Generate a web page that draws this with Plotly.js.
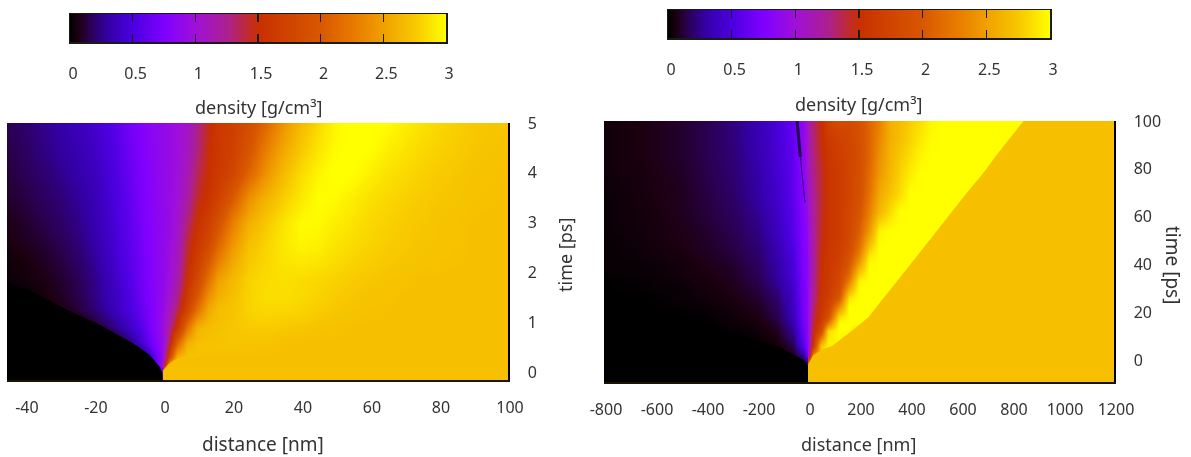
<!DOCTYPE html>
<html>
<head>
<meta charset="utf-8">
<script src="https://cdn.plot.ly/plotly-3.0.1.min.js"></script>
<style>html,body{margin:0;padding:0;background:#fff}#g{width:1191px;height:457px;filter:blur(0.45px)}</style>
</head>
<body>
<div id="g"></div>
<script>
// density colour palette (g/cm3 fraction of 3)
const paletteStops = [0,0.02,0.05,0.1,0.167,0.25,0.333,0.4167,0.5,0.667,0.75,0.833,0.917,1];
const paletteColors = ['#000000','#1c0010','#2a0050','#3400a8','#4c00e0','#8000ff','#a010d8','#ac2090','#c83000','#d85800','#e87800','#f0a000','#f8c800','#ffff00'];
const goldColor = '#f6c000';
const blackColor = '#000000';

const cbLevels = [0,0.1,0.2,0.3,0.4,0.5,0.6,0.7,0.8,0.9,1,1.1,1.2,1.3,1.4,1.5,1.6,1.7,1.8,1.9,2,2.1,2.2,2.3,2.4,2.5,2.6,2.7,2.8,2.9,3];
const cbTicks = [0,0.5,1,1.5,2,2.5,3];
const cbTickText = ['0','0.5','1','1.5','2','2.5','3'];

const xTicksLeft = [-40,-20,0,20,40,60,80,100];
const xTextLeft = ['-40','-20','0','20','40','60','80','100'];
const tTicksLeft = [0,1,2,3,4,5];
const xTicksRight = [-800,-600,-400,-200,0,200,400,600,800,1000,1200];
const xTextRight = ['-800','-600','-400','-200','0','200','400','600','800','1000','1200'];
const tTicksRight = [0,20,40,60,80,100];

// left panel: distance [nm], time [ps], density [g/cm3]
const xLeft = [-46,-40,-35,-30,-25,-20,-15,-10,-7,-4,-2,-0.3,0.3,2,4,7,10,13,16,20,25,30,35,40,45,50,55,60,65,70,75,80,90,101];
const tLeft = [-0.2,0.03,0.15,0.3,0.58,0.9,1.25,1.5,1.85,2.2,2.6,3,3.5,4,4.5,5.05];
const zLeft = [
[0,0,0,0,0,0,0,0,0,0,0,0,2.7,2.7,2.7,2.7,2.7,2.7,2.7,2.7,2.7,2.7,2.7,2.7,2.7,2.7,2.7,2.7,2.7,2.7,2.7,2.7,2.7,2.7],
[0,0,0,0,0,0,0,0,0,0,0,0.6,2.6,2.7,2.7,2.7,2.7,2.7,2.7,2.7,2.7,2.7,2.7,2.7,2.7,2.7,2.7,2.7,2.7,2.7,2.7,2.7,2.7,2.7],
[0,0,0,0,0,0,0,0,0,0,0.6,1.0,1.3,2.65,2.7,2.7,2.7,2.7,2.7,2.7,2.7,2.7,2.7,2.7,2.7,2.7,2.7,2.7,2.7,2.7,2.7,2.7,2.7,2.7],
[0,0,0,0,0,0,0,0,0,0.4,0.65,0.9,1.1,1.9,2.6,2.72,2.72,2.7,2.7,2.7,2.7,2.7,2.7,2.7,2.7,2.7,2.7,2.7,2.7,2.7,2.7,2.7,2.7,2.7],
[0,0,0,0,0,0,0,0.18,0.38,0.62,0.78,0.9,1.0,1.45,2.1,2.6,2.7,2.72,2.73,2.74,2.72,2.72,2.7,2.7,2.7,2.7,2.7,2.7,2.7,2.7,2.7,2.7,2.7,2.7],
[0,0,0,0,0,0.08,0.2,0.38,0.52,0.7,0.82,0.92,1.0,1.25,1.55,2.2,2.6,2.68,2.7,2.74,2.76,2.77,2.75,2.74,2.72,2.71,2.7,2.7,2.7,2.7,2.7,2.7,2.7,2.7],
[0,0,0,0.05,0.11,0.2,0.33,0.48,0.6,0.72,0.82,0.9,0.95,1.12,1.35,1.75,2.2,2.55,2.68,2.72,2.8,2.82,2.82,2.8,2.77,2.74,2.72,2.71,2.7,2.7,2.7,2.7,2.7,2.7],
[0,0,0.04,0.08,0.14,0.23,0.35,0.5,0.62,0.75,0.82,0.88,0.92,1.05,1.25,1.62,2.0,2.4,2.6,2.7,2.8,2.85,2.85,2.83,2.8,2.76,2.74,2.72,2.71,2.7,2.7,2.7,2.7,2.7],
[0.02,0.04,0.06,0.1,0.15,0.24,0.37,0.53,0.65,0.76,0.83,0.87,0.9,1.0,1.15,1.52,1.8,2.2,2.5,2.65,2.8,2.84,2.86,2.84,2.82,2.79,2.76,2.74,2.72,2.71,2.7,2.7,2.7,2.7],
[0.03,0.05,0.08,0.12,0.18,0.27,0.4,0.55,0.66,0.76,0.83,0.87,0.9,0.98,1.1,1.45,1.68,2.0,2.3,2.55,2.75,2.82,2.88,2.9,2.88,2.84,2.8,2.77,2.75,2.73,2.72,2.71,2.7,2.7],
[0.05,0.08,0.11,0.15,0.21,0.3,0.42,0.57,0.67,0.77,0.83,0.87,0.89,0.96,1.06,1.4,1.58,1.8,2.1,2.42,2.7,2.8,2.9,2.96,2.94,2.88,2.84,2.8,2.77,2.75,2.73,2.72,2.7,2.7],
[0.06,0.1,0.14,0.18,0.24,0.32,0.44,0.58,0.69,0.78,0.83,0.86,0.88,0.94,1.03,1.3,1.52,1.68,1.92,2.28,2.6,2.75,2.88,2.98,2.98,2.92,2.87,2.82,2.79,2.76,2.74,2.72,2.7,2.7],
[0.09,0.13,0.17,0.21,0.27,0.34,0.46,0.6,0.7,0.79,0.84,0.87,0.89,0.93,1.0,1.18,1.42,1.55,1.7,2.0,2.4,2.62,2.78,2.9,3.0,2.98,2.92,2.86,2.82,2.79,2.76,2.74,2.71,2.7],
[0.11,0.16,0.2,0.25,0.3,0.37,0.48,0.62,0.72,0.8,0.85,0.87,0.89,0.93,0.98,1.12,1.35,1.5,1.62,1.75,2.1,2.42,2.68,2.84,2.95,3.02,3.0,2.93,2.87,2.83,2.79,2.76,2.72,2.7],
[0.13,0.18,0.23,0.28,0.33,0.4,0.5,0.65,0.74,0.81,0.85,0.88,0.89,0.93,0.97,1.08,1.28,1.48,1.6,1.7,1.95,2.28,2.55,2.75,2.88,2.98,3.02,3.0,2.93,2.88,2.83,2.79,2.74,2.71],
[0.15,0.2,0.25,0.3,0.36,0.43,0.53,0.68,0.75,0.82,0.86,0.88,0.9,0.93,0.97,1.05,1.25,1.45,1.58,1.68,1.85,2.12,2.42,2.66,2.82,2.96,3.02,3.03,3.0,2.93,2.87,2.82,2.75,2.72]
];
// sharp fronts of the left panel
const blackLeftX = [-46,-45,-37.7,-27.8,-18.3,-8.7,-3.8,-0.9,-0.2,-0.2,-46];
const blackLeftT = [1.82,1.8,1.6,1.25,0.95,0.58,0.34,0.1,-0.02,-0.2,-0.2];
const goldLeftX = [0,0,1.5,3.5,6,101,101];
const goldLeftT = [-0.2,0.03,0.15,0.25,0.3,0.3,-0.2];

// right panel: distance [nm], time [ps], density [g/cm3]
const xRight = [-820,-650,-500,-400,-300,-200,-120,-60,-20,-1,1,20,50,80,120,160,200,240,280,320,360,400,440,480,520,560,600,640,680,720,760,800,840,870,900,1220];
const tRight = [-10,-3,2,6,12,15,18,22,26,29.5,33,36.5,40,43.5,47,54,62,70,78,86,93,100.5];
const zRight = [
[0,0,0,0,0,0,0,0,0,0,2.7,2.7,2.7,2.7,2.7,2.7,2.7,2.7,2.7,2.7,2.7,2.7,2.7,2.7,2.7,2.7,2.7,2.7,2.7,2.7,2.7,2.7,2.7,2.7,2.7,2.7],
[0,0,0,0,0,0,0,0,0,0,2.7,2.7,2.7,2.7,2.7,2.7,2.7,2.7,2.7,2.7,2.7,2.7,2.7,2.7,2.7,2.7,2.7,2.7,2.7,2.7,2.7,2.7,2.7,2.7,2.7,2.7],
[0,0,0,0,0,0,0,0.08,0.25,0.75,1.0,2.3,2.72,2.72,2.7,2.7,2.7,2.7,2.7,2.7,2.7,2.7,2.7,2.7,2.7,2.7,2.7,2.7,2.7,2.7,2.7,2.7,2.7,2.7,2.7,2.7],
[0,0,0,0,0,0,0.03,0.14,0.55,0.85,0.92,1.6,2.75,2.95,2.95,2.7,2.7,2.7,2.7,2.7,2.7,2.7,2.7,2.7,2.7,2.7,2.7,2.7,2.7,2.7,2.7,2.7,2.7,2.7,2.7,2.7],
[0,0,0,0,0.01,0.03,0.08,0.27,0.65,0.85,0.95,1.45,1.85,2.85,3,3,2.7,2.7,2.7,2.7,2.7,2.7,2.7,2.7,2.7,2.7,2.7,2.7,2.7,2.7,2.7,2.7,2.7,2.7,2.7,2.7],
[0,0,0,0,0.02,0.04,0.11,0.31,0.67,0.85,0.95,1.4,1.72,2.3,3,3,3,3,2.7,2.7,2.7,2.7,2.7,2.7,2.7,2.7,2.7,2.7,2.7,2.7,2.7,2.7,2.7,2.7,2.7,2.7],
[0,0,0,0.01,0.03,0.06,0.15,0.36,0.7,0.85,0.95,1.35,1.6,1.9,2.85,3,3,3,3,2.7,2.7,2.7,2.7,2.7,2.7,2.7,2.7,2.7,2.7,2.7,2.7,2.7,2.7,2.7,2.7,2.7],
[0,0,0.01,0.02,0.04,0.08,0.17,0.38,0.71,0.85,0.93,1.3,1.58,1.75,2.4,3,3,3,3,3,2.7,2.7,2.7,2.7,2.7,2.7,2.7,2.7,2.7,2.7,2.7,2.7,2.7,2.7,2.7,2.7],
[0,0,0.02,0.03,0.06,0.1,0.2,0.4,0.72,0.85,0.92,1.25,1.55,1.65,2.0,2.9,3,3,3,3,3,2.7,2.7,2.7,2.7,2.7,2.7,2.7,2.7,2.7,2.7,2.7,2.7,2.7,2.7,2.7],
[0,0.01,0.02,0.04,0.07,0.12,0.23,0.42,0.72,0.85,0.92,1.24,1.53,1.63,1.88,2.6,3,3,3,3,3,3,2.7,2.7,2.7,2.7,2.7,2.7,2.7,2.7,2.7,2.7,2.7,2.7,2.7,2.7],
[0,0.01,0.03,0.05,0.08,0.14,0.27,0.45,0.72,0.85,0.92,1.22,1.52,1.62,1.8,2.3,2.95,3,3,3,3,3,3,2.7,2.7,2.7,2.7,2.7,2.7,2.7,2.7,2.7,2.7,2.7,2.7,2.7],
[0.01,0.02,0.04,0.06,0.09,0.16,0.29,0.47,0.74,0.85,0.92,1.21,1.51,1.61,1.76,2.12,2.75,3,3,3,3,3,3,2.7,2.7,2.7,2.7,2.7,2.7,2.7,2.7,2.7,2.7,2.7,2.7,2.7],
[0.01,0.02,0.04,0.07,0.1,0.17,0.3,0.48,0.75,0.85,0.92,1.2,1.5,1.6,1.72,2.0,2.5,2.98,3,3,3,3,3,3,2.7,2.7,2.7,2.7,2.7,2.7,2.7,2.7,2.7,2.7,2.7,2.7],
[0.01,0.03,0.05,0.08,0.12,0.19,0.32,0.5,0.76,0.85,0.93,1.2,1.49,1.58,1.7,1.92,2.33,2.9,3,3,3,3,3,3,3,2.7,2.7,2.7,2.7,2.7,2.7,2.7,2.7,2.7,2.7,2.7],
[0.01,0.03,0.06,0.09,0.13,0.2,0.33,0.52,0.76,0.85,0.93,1.2,1.47,1.57,1.68,1.85,2.2,2.75,3,3,3,3,3,3,3,3,2.7,2.7,2.7,2.7,2.7,2.7,2.7,2.7,2.7,2.7],
[0.02,0.04,0.07,0.1,0.15,0.23,0.37,0.55,0.78,0.87,0.95,1.2,1.45,1.55,1.65,1.8,2.05,2.45,2.95,3,3,3,3,3,3,3,3,2.7,2.7,2.7,2.7,2.7,2.7,2.7,2.7,2.7],
[0.02,0.04,0.08,0.12,0.17,0.26,0.4,0.57,0.8,0.9,1.0,1.22,1.42,1.55,1.65,1.78,1.95,2.3,2.65,2.85,3,3,3,3,3,3,3,3,3,2.7,2.7,2.7,2.7,2.7,2.7,2.7],
[0.02,0.05,0.08,0.13,0.19,0.29,0.42,0.59,0.82,1.0,1.05,1.22,1.42,1.55,1.65,1.75,1.9,2.2,2.55,2.72,2.85,3,3,3,3,3,3,3,3,3,2.7,2.7,2.7,2.7,2.7,2.7],
[0.03,0.05,0.09,0.14,0.2,0.3,0.44,0.6,0.84,1.02,1.08,1.25,1.42,1.55,1.65,1.75,1.88,2.15,2.45,2.65,2.8,2.92,3,3,3,3,3,3,3,3,3,2.7,2.7,2.7,2.7,2.7],
[0.03,0.06,0.1,0.15,0.21,0.32,0.45,0.61,0.85,1.05,1.1,1.28,1.45,1.58,1.68,1.75,1.88,2.1,2.4,2.62,2.75,2.85,2.95,3,3,3,3,3,3,3,3,3,2.7,2.7,2.7,2.7],
[0.03,0.06,0.1,0.15,0.22,0.33,0.46,0.62,0.86,1.05,1.12,1.3,1.48,1.62,1.72,1.78,1.9,2.1,2.35,2.6,2.7,2.8,2.9,2.98,3,3,3,3,3,3,3,3,3,2.7,2.7,2.7],
[0.03,0.06,0.1,0.15,0.22,0.33,0.47,0.62,0.87,1.05,1.15,1.3,1.5,1.7,1.85,1.82,1.9,2.1,2.3,2.6,2.68,2.78,2.85,2.95,3,3,3,3,3,3,3,3,3,3,2.7,2.7]
];
// sharp fronts of the right panel
const blackRightX = [-820,-560,-400,-250,-122,-60,-31,-8,-1,-0.5,-820];
const blackRightT = [22,19,15,10,6,2.5,0.8,-0.5,-3,-10,-10];
const goldRightX = [0,0,20,50,95,170,238,297,349,401,453,505,564,623,686,741,793,849,1220,1220];
const goldRightT = [-10,-2,2,4,6,12,18,26,33,40,47,54,62,70,78,86,93,100.5,100.5,-10];
// thin dark streak near the top of the right panel
const streakTopX = [-43,-30];
const streakTopT = [100,85];
const streakLowX = [-30,-12];
const streakLowT = [85,66];

const W = 1191, H = 457;
const font = {family:'"Noto Sans", sans-serif', size:16, color:'#333333'};
const colorscale = paletteStops.map((s,i)=>[s,paletteColors[i]]);
const px = (a,b)=>[a/W,b/W];
const py = (top,bot)=>[1-bot/H,1-top/H];

function heat(x,y,z,xa,ya){
  return {type:'heatmap',x,y,z,xaxis:xa,yaxis:ya,zmin:0,zmax:3,zsmooth:'best',colorscale,showscale:false,hoverinfo:'skip'};
}
function patch(x,y,color,xa,ya){
  return {type:'scatter',mode:'none',fill:'toself',fillcolor:color,x,y,xaxis:xa,yaxis:ya,hoverinfo:'skip',showlegend:false};
}
function streak(x,y,color,width){
  return {type:'scatter',mode:'lines',x,y,xaxis:'x2',yaxis:'y2',line:{color,width},hoverinfo:'skip',showlegend:false};
}
function barAxis(dom,shift){
  return {domain:dom,range:[0,3],fixedrange:true,tickmode:'array',tickvals:cbTicks,ticktext:cbTickText,
    ticks:'inside',ticklen:8,tickcolor:'#1a1a1a',tickwidth:1.5,showline:true,linecolor:'#1a1a1a',linewidth:1.5,mirror:'ticks',
    ticklabelstandoff:16,ticklabelshift:shift,showgrid:false,zeroline:false,tickfont:font};
}
function barY(dom,xname){
  return {domain:dom,range:[0,1],anchor:xname,showticklabels:false,ticks:'',showgrid:false,zeroline:false,showline:true,linecolor:'#1a1a1a',linewidth:1.5,mirror:true};
}
function mainX(dom,range,vals,text,y){
  return {domain:dom,range,anchor:y,tickmode:'array',tickvals:vals,ticktext:text,ticks:'',showline:true,linecolor:'#1a1400',linewidth:1.5,
    showgrid:false,zeroline:false,ticklabelstandoff:12,ticklabelshift:2,tickfont:font};
}
function mainY(dom,range,vals,x){
  return {domain:dom,range,anchor:x,side:'right',tickmode:'array',tickvals:vals,ticks:'',showline:true,linecolor:'#000000',linewidth:1.5,
    showgrid:false,zeroline:false,ticklabelstandoff:15,tickfont:font};
}
function note(text,x,y,size,rot){
  return {text,xref:'paper',yref:'paper',x:x/W,y:1-y/H,xanchor:'center',yanchor:'middle',showarrow:false,textangle:rot||0,
    font:Object.assign({},font,{size})};
}

const data = [
  heat(xLeft,tLeft,zLeft,'x','y'),
  patch(blackLeftX,blackLeftT,blackColor,'x','y'),
  patch(goldLeftX,goldLeftT,goldColor,'x','y'),
  heat(xRight,tRight,zRight,'x2','y2'),
  patch(blackRightX,blackRightT,blackColor,'x2','y2'),
  patch(goldRightX,goldRightT,goldColor,'x2','y2'),
  streak(streakTopX,streakTopT,'#200050',3),
  streak(streakLowX,streakLowT,'#300080',1),
  heat(cbLevels,[0,1],[cbLevels,cbLevels],'x3','y3'),
  heat(cbLevels,[0,1],[cbLevels,cbLevels],'x4','y4')
];

const layout = {
  width:W,height:H,margin:{l:0,r:0,t:0,b:0},paper_bgcolor:'#ffffff',plot_bgcolor:'#ffffff',showlegend:false,font,
  xaxis: mainX(px(7,508),[-45.2,100],xTicksLeft,xTextLeft,'y'),
  yaxis: mainY(py(123,380),[-0.16,5],tTicksLeft,'x'),
  xaxis2: mainX(px(604,1114),[-800,1200],xTicksRight,xTextRight,'y2'),
  yaxis2: mainY(py(121,382),[-9.2,100],tTicksRight,'x2'),
  xaxis3: Object.assign(barAxis(px(70,446),3),{anchor:'y3'}),
  yaxis3: barY(py(14,42),'x3'),
  xaxis4: Object.assign(barAxis(px(668,1050),3),{anchor:'y4'}),
  yaxis4: barY(py(10,38),'x4'),
  annotations:[
    note('density [g/cm³]',258,107,18),
    note('distance [nm]',263,444,19),
    note('time [ps]',565,255,18,-90),
    note('density [g/cm³]',858,104,18),
    note('distance [nm]',858,444,18),
    note('time [ps]',1173,265,19,90)
  ]
};
Plotly.newPlot('g',data,layout,{displayModeBar:false,staticPlot:true});
</script>
</body>
</html>
